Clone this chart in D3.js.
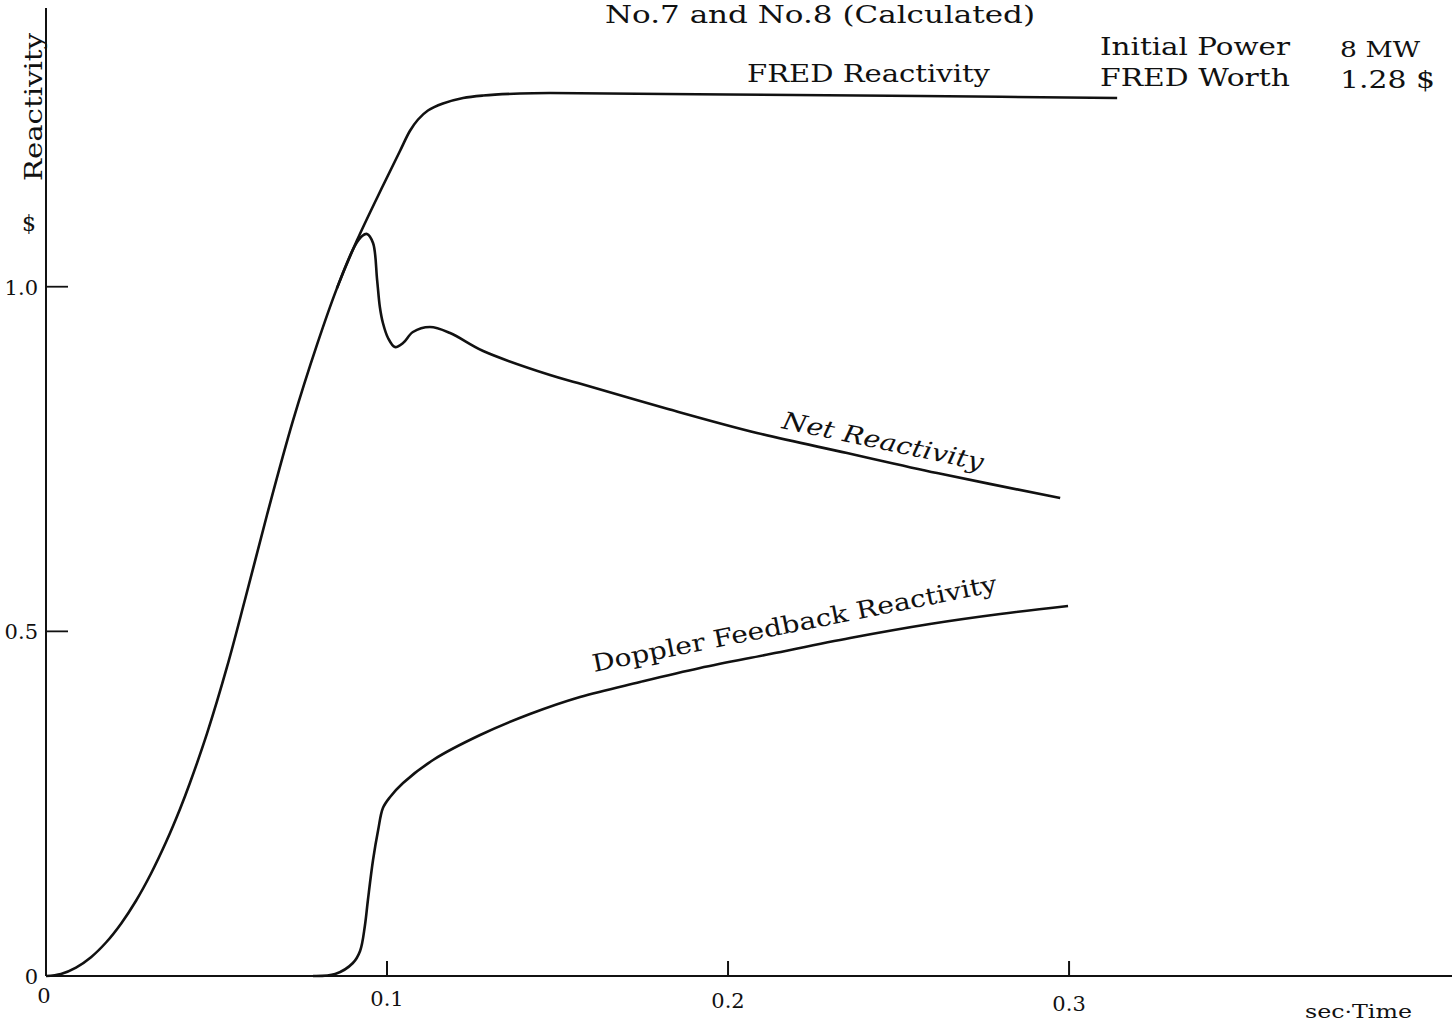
<!DOCTYPE html>
<html>
<head>
<meta charset="utf-8">
<script src="https://cdn.jsdelivr.net/npm/d3@7"></script>
<style>
  html, body { margin: 0; padding: 0; background: #fff; }
  svg { display: block; }
  text { font-family: "DejaVu Serif", "Liberation Serif", serif; fill: #111; }
</style>
</head>
<body>
<svg id="chart" width="1454" height="1025"></svg>
<script>
// ---- data (time in sec, reactivity in $) ----
const fredTime = [0, 0.0044, 0.0088, 0.0132, 0.0176, 0.0220, 0.0264, 0.0308, 0.0352, 0.0393, 0.0422, 0.0472, 0.0531, 0.0584, 0.0648, 0.0724, 0.0795, 0.0853, 0.0912, 0.0988, 0.1038, 0.1067, 0.1091, 0.1120, 0.1164, 0.1223, 0.1282, 0.1390, 0.1478, 0.2000, 0.2563, 0.3141];
const fredValue = [0, 0.0030, 0.0122, 0.0273, 0.0486, 0.0759, 0.1092, 0.1487, 0.1943, 0.2423, 0.2800, 0.3515, 0.4487, 0.5469, 0.6688, 0.8052, 0.9163, 0.9976, 1.0672, 1.1464, 1.1969, 1.2259, 1.2426, 1.2557, 1.2658, 1.2738, 1.2774, 1.2803, 1.2810, 1.2788, 1.2767, 1.2738];

const netTime = [0.0853, 0.0906, 0.0927, 0.0941, 0.0959, 0.0971, 0.0979, 0.0988, 0.1003, 0.1023, 0.1047, 0.1076, 0.1126, 0.1185, 0.1282, 0.1478, 0.1560, 0.1824, 0.2085, 0.2349, 0.2613, 0.2974];
const netValue = [0.9976, 1.0597, 1.0736, 1.0765, 1.0634, 1.0097, 0.9706, 0.9473, 0.9256, 0.9125, 0.9183, 0.9343, 0.9415, 0.9328, 0.9067, 0.8719, 0.8603, 0.8226, 0.7878, 0.7587, 0.7297, 0.6934];

const dopplerTime = [0.0783, 0.0848, 0.0900, 0.0921, 0.0935, 0.0944, 0.0959, 0.0974, 0.0988, 0.1009, 0.1047, 0.1135, 0.1273, 0.1419, 0.1566, 0.1742, 0.1918, 0.2123, 0.2358, 0.2592, 0.2798, 0.2997];
const dopplerValue = [0, 0.0029, 0.0189, 0.0363, 0.0725, 0.1103, 0.1683, 0.2118, 0.2437, 0.2597, 0.2800, 0.3134, 0.3496, 0.3801, 0.4048, 0.4265, 0.4468, 0.4671, 0.4904, 0.5107, 0.5252, 0.5368];

const xTicks = [0, 0.1, 0.2, 0.3];
const xTickLabels = ["0", "0.1", "0.2", "0.3"];
const yTicks = [0, 0.5, 1.0];
const yTickLabels = ["0", "0.5", "1.0"];

// ---- scales ----
const x = d3.scaleLinear().domain([0, 0.412]).range([46, 1451]);
const y = d3.scaleLinear().domain([0, 1.4]).range([976, 11]);

const svg = d3.select("#chart");

// axes lines
svg.append("line").attr("x1", x(0)).attr("x2", x(0)).attr("y1", 8).attr("y2", y(0))
  .attr("stroke", "#111").attr("stroke-width", 2);
svg.append("line").attr("x1", x(0)).attr("x2", 1452).attr("y1", y(0)).attr("y2", y(0))
  .attr("stroke", "#111").attr("stroke-width", 2);

// x ticks (upward)
svg.selectAll(".xt").data(xTicks.filter(d => d > 0)).enter().append("line")
  .attr("x1", d => x(d)).attr("x2", d => x(d))
  .attr("y1", y(0)).attr("y2", y(0) - 15)
  .attr("stroke", "#111").attr("stroke-width", 2);
// y ticks (inward)
svg.selectAll(".yt").data(yTicks.filter(d => d > 0)).enter().append("line")
  .attr("x1", x(0)).attr("x2", x(0) + 22)
  .attr("y1", d => y(d)).attr("y2", d => y(d))
  .attr("stroke", "#111").attr("stroke-width", 1.8);

// tick labels
svg.selectAll(".xl").data(xTicks).enter().append("text")
  .attr("x", d => x(d) + (d === 0 ? -2 : 0))
  .attr("y", (d, i) => 1003 + i * 2.5)
  .attr("text-anchor", "middle")
  .style("font-size", "21px")
  .text((d, i) => xTickLabels[i]);
svg.selectAll(".yl").data(yTicks).enter().append("text")
  .attr("x", 38)
  .attr("y", d => y(d) + 8)
  .attr("text-anchor", "end")
  .style("font-size", "21px")
  .text((d, i) => yTickLabels[i]);

// curves
const line = d3.line().x(d => x(d[0])).y(d => y(d[1])).curve(d3.curveCatmullRom.alpha(0.5));
const series = [
  d3.zip(fredTime, fredValue),
  d3.zip(netTime, netValue),
  d3.zip(dopplerTime, dopplerValue)
];
svg.selectAll(".curve").data(series).enter().append("path")
  .attr("d", line)
  .attr("fill", "none")
  .attr("stroke", "#111")
  .attr("stroke-width", 2.6)
  .attr("stroke-linejoin", "round");

// texts
function label(txt, xx, yy, size, len, rot) {
  const t = svg.append("text")
    .attr("x", xx).attr("y", yy)
    .style("font-size", size + "px")
    .text(txt);
  if (len) t.attr("textLength", len).attr("lengthAdjust", "spacingAndGlyphs");
  if (rot) t.attr("transform", `rotate(${rot},${xx},${yy})`);
  return t;
}
label("No.7 and No.8  (Calculated)", 605, 23, 24, 430);
label("FRED Reactivity", 747, 82, 24, 243);
label("Initial Power", 1100, 55, 24, 190);
label("8 MW", 1340, 57, 23, 80);
label("FRED Worth", 1100, 86, 24, 190);
label("1.28 $", 1340, 88, 24, 95);
label("Reactivity", 42, 181, 25, 148, -90);
label("$", 22, 231, 22, null);
label("sec\u00B7Time", 1305, 1018, 19, 107);
label("Net Reactivity", 781, 428, 24, 205, 12).style("font-style", "italic");
label("Doppler Feedback Reactivity", 594, 672, 24, 412, -11.3);
</script>
</body>
</html>
